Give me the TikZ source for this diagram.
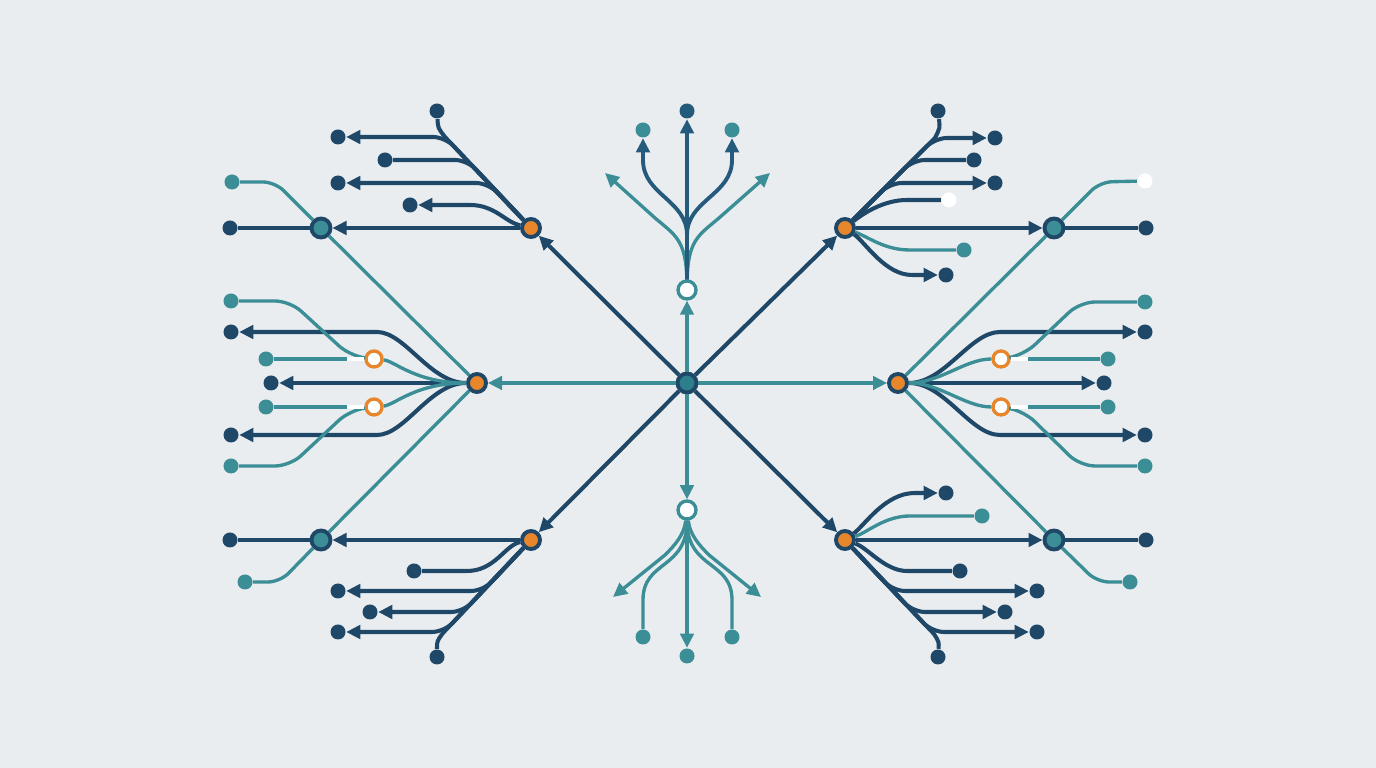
\documentclass[tikz,border=0pt]{standalone}
\usepackage{tikz}
\usetikzlibrary{arrows.meta}
\definecolor{bgcolor}{HTML}{E9EDF0}
\definecolor{navyline}{HTML}{1F4768}
\definecolor{midline}{HTML}{245B7C}
\definecolor{tealline}{HTML}{3B8D96}
\definecolor{hubfill}{HTML}{2E7F8C}
\definecolor{orangefill}{HTML}{E8862C}
\tikzset{
    %Define standard arrow tip
    >={Triangle[length=4pt,width=3.8pt]},
    %Define style for nodes
    hub/.style={
           circle,
           draw=navyline, line width=1.1pt,
           fill=hubfill,
           minimum size=0.19cm,
           inner sep=0pt},
    junction/.style={hub, fill=orangefill, minimum size=0.18cm},
    relay/.style={hub, fill=tealline, minimum size=0.19cm},
    openring/.style={
           circle,
           draw=tealline, line width=0.95pt,
           fill=white,
           minimum size=0.18cm,
           inner sep=0pt},
    orangering/.style={openring, draw=orangefill, minimum size=0.16cm},
    enddot/.style={
           circle,
           fill=navyline,
           minimum size=0.15cm,
           inner sep=0pt},
    tealdot/.style={enddot, fill=tealline},
    whitedot/.style={enddot, fill=white},
    % Define line styles
    nline/.style={draw=navyline, line width=1.15pt},
    mline/.style={draw=midline, line width=1.1pt},
    tline/.style={draw=tealline, line width=0.95pt},
    gapline/.style={draw=white, line width=1pt}
}
\begin{document}
\begin{tikzpicture}[x=0.01cm,y=-0.01cm]
\path[use as bounding box, fill=bgcolor] (0,0) rectangle (1376,768);

% hubs and junctions
\node[hub] (c) at (687,383) {};
\node[openring] (t) at (687,290) {};
\node[openring] (b) at (687,510) {};
\node[junction] (l) at (477,383) {};
\node[junction] (r) at (898,383) {};
\node[junction] (ul) at (531,228) {};
\node[junction] (ur) at (845,228) {};
\node[junction] (ll) at (531,540) {};
\node[junction] (lr) at (845,540) {};
\node[relay] (tl) at (321,228) {};
\node[relay] (tr) at (1054,228) {};
\node[relay] (bl) at (321,540) {};
\node[relay] (br) at (1054,540) {};
\node[orangering] (lo1) at (374,359) {};
\node[orangering] (lo2) at (374,407) {};
\node[orangering] (ro1) at (1001,359) {};
\node[orangering] (ro2) at (1001,407) {};

% end points
\node[enddot, fill=midline] (t0) at (687,111) {};
\node[tealdot] (t1) at (643,130) {};
\node[tealdot] (t2) at (732,130) {};
\coordinate (ta) at (605,173);
\coordinate (tb) at (770,173);
\node[tealdot] (b0) at (687,656) {};
\node[tealdot] (b1) at (643,637) {};
\node[tealdot] (b2) at (732,637) {};
\coordinate (ba) at (613,597);
\coordinate (bb) at (761,597);

\node[enddot] (ul0) at (437,111) {};
\node[enddot] (ul1) at (338,137) {};
\node[enddot] (ul2) at (385,160) {};
\node[enddot] (ul3) at (338,183) {};
\node[enddot] (ul4) at (410,205) {};
\node[enddot] (tl0) at (230,228) {};
\node[tealdot] (tl1) at (232,182) {};

\node[enddot] (ur0) at (938,111) {};
\node[enddot] (ur1) at (995,138) {};
\node[enddot] (ur2) at (974,160) {};
\node[enddot] (ur3) at (995,183) {};
\node[whitedot] (ur4) at (949,200) {};
\node[tealdot] (ur5) at (964,250) {};
\node[enddot] (ur6) at (946,275) {};
\node[enddot] (tr0) at (1146,228) {};
\node[whitedot] (tr1) at (1145,181) {};

\node[tealdot] (l1) at (231,301) {};
\node[enddot] (l2) at (231,332) {};
\node[tealdot] (l3) at (266,359) {};
\node[enddot] (l4) at (271,383) {};
\node[tealdot] (l5) at (266,407) {};
\node[enddot] (l6) at (231,435) {};
\node[tealdot] (l7) at (231,466) {};

\node[tealdot] (r1) at (1145,302) {};
\node[enddot] (r2) at (1145,332) {};
\node[tealdot] (r3) at (1108,359) {};
\node[enddot] (r4) at (1104,383) {};
\node[tealdot] (r5) at (1108,407) {};
\node[enddot] (r6) at (1145,435) {};
\node[tealdot] (r7) at (1145,466) {};

\node[enddot] (bl0) at (230,540) {};
\node[tealdot] (bl1) at (245,582) {};
\node[enddot] (ll1) at (414,571) {};
\node[enddot] (ll2) at (338,591) {};
\node[enddot] (ll3) at (370,612) {};
\node[enddot] (ll4) at (338,632) {};
\node[enddot] (ll0) at (437,657) {};

\node[enddot] (br0) at (1146,540) {};
\node[tealdot] (br1) at (1130,582) {};
\node[enddot] (lr1) at (946,493) {};
\node[tealdot] (lr2) at (982,516) {};
\node[enddot] (lr3) at (960,571) {};
\node[enddot] (lr4) at (1037,591) {};
\node[enddot] (lr5) at (1005,612) {};
\node[enddot] (lr6) at (1037,632) {};
\node[enddot] (lr0) at (938,657) {};

% spokes
\draw[nline,->] (c) -- (ul);
\draw[nline,->] (c) -- (ur);
\draw[nline,->] (c) -- (ll);
\draw[nline,->] (c) -- (lr);
\draw[tline,->] (c) -- (l);
\draw[tline,->] (c) -- (r);
\draw[tline,->] (c) -- (t);
\draw[tline,->] (c) -- (b);

% top fan
\draw[tline,->] (t) .. controls (686,240) and (675,235) .. (655,218) -- (ta);
\draw[tline,->] (t) .. controls (688,240) and (699,235) .. (719,218) -- (tb);
\draw[mline,->] (t) -- (t0);
\draw[mline,->] (t) -- (687,235) .. controls (687,200) and (643,195) .. (643,160) -- (t1);
\draw[mline,->] (t) -- (687,235) .. controls (687,200) and (732,195) .. (732,160) -- (t2);

% bottom fan
\draw[tline,->] (b) -- (b0);
\draw[tline] (b) .. controls (687,570) and (643,560) .. (643,600) -- (b1);
\draw[tline] (b) .. controls (687,570) and (732,560) .. (732,600) -- (b2);
\draw[tline,->] (b) .. controls (684,535) and (675,545) .. (665,555) -- (ba);
\draw[tline,->] (b) .. controls (690,535) and (699,545) .. (709,555) -- (bb);

% teal diagonals
\draw[tline] (l) -- (tl);
\draw[tline,rounded corners=0.12cm] (tl) -- (275,182) -- (tl1);
\draw[tline] (l) -- (bl);
\draw[tline,rounded corners=0.12cm] (bl) -- (280,582) -- (bl1);
\draw[tline] (r) -- (tr);
\draw[tline,rounded corners=0.12cm] (tr) -- (1100,182) -- (tr1);
\draw[tline] (r) -- (br);
\draw[tline,rounded corners=0.12cm] (br) -- (1097,582) -- (br1);

% upper left
\draw[nline,->] (ul) -- (tl);
\draw[nline] (tl) -- (tl0);
\draw[nline] (ul) -- (445,137) .. controls (438,128) .. (ul0);
\draw[nline,->,rounded corners=0.12cm] (ul) -- (445,137) -- (ul1);
\draw[nline,rounded corners=0.12cm] (ul) -- (467,160) -- (ul2);
\draw[nline,->,rounded corners=0.12cm] (ul) -- (488,183) -- (ul3);
\draw[nline,->] (ul) .. controls (505,222) and (495,205) .. (470,205) -- (ul4);

% upper right
\draw[nline,->] (ur) -- (tr);
\draw[nline] (tr) -- (tr0);
\draw[nline] (ur) -- (935,138) .. controls (940,128) .. (ur0);
\draw[nline,->,rounded corners=0.12cm] (ur) -- (935,138) -- (ur1);
\draw[nline,rounded corners=0.12cm] (ur) -- (913,160) -- (ur2);
\draw[nline,->,rounded corners=0.12cm] (ur) -- (890,183) -- (ur3);
\draw[nline] (ur) .. controls (865,212) and (885,200) .. (907,200) -- (ur4);
\draw[tline] (ur) .. controls (870,238) and (885,250) .. (910,250) -- (ur5);
\draw[nline,->] (ur) .. controls (865,242) and (885,275) .. (912,275) -- (ur6);

% left fan
\draw[nline,->] (l) -- (l4);
\draw[nline,->] (l) .. controls (430,383) and (405,332) .. (377,332) -- (l2);
\draw[nline,->] (l) .. controls (430,383) and (405,435) .. (377,435) -- (l6);
\draw[tline,rounded corners=0.15cm] (l1) -- (290,301) -- (350,356) -- (lo1);
\draw[tline] (lo1) .. controls (395,361) and (415,383) .. (l);
\draw[tline,rounded corners=0.15cm] (l7) -- (290,466) -- (350,410) -- (lo2);
\draw[tline] (lo2) .. controls (395,405) and (415,383) .. (l);
\draw[tline] (l3) -- (347,359);
\draw[gapline] (347,359) -- (lo1);
\draw[tline] (l5) -- (347,407);
\draw[gapline] (347,407) -- (lo2);

% right fan
\draw[nline,->] (r) -- (r4);
\draw[nline,->] (r) .. controls (945,383) and (970,332) .. (1000,332) -- (r2);
\draw[nline,->] (r) .. controls (945,383) and (970,435) .. (1000,435) -- (r6);
\draw[tline] (r) .. controls (940,383) and (965,359) .. (ro1);
\draw[tline,rounded corners=0.15cm] (ro1) -- (1024,355) -- (1080,302) -- (r1);
\draw[tline] (r) .. controls (940,383) and (965,407) .. (ro2);
\draw[tline,rounded corners=0.15cm] (ro2) -- (1024,411) -- (1080,466) -- (r7);
\draw[gapline] (ro1) -- (1028,359);
\draw[tline] (1028,359) -- (r3);
\draw[gapline] (ro2) -- (1028,407);
\draw[tline] (1028,407) -- (r5);

% lower left
\draw[nline,->] (ll) -- (bl);
\draw[nline] (bl) -- (bl0);
\draw[nline] (ll) .. controls (505,545) and (495,571) .. (467,571) -- (ll1);
\draw[nline] (ll) -- (443,633) .. controls (437,641) .. (ll0);
\draw[nline,->,rounded corners=0.12cm] (ll) -- (483,591) -- (ll2);
\draw[nline,->,rounded corners=0.12cm] (ll) -- (463,612) -- (ll3);
\draw[nline,->,rounded corners=0.12cm] (ll) -- (444,632) -- (ll4);

% lower right
\draw[nline,->] (lr) -- (br);
\draw[nline] (br) -- (br0);
\draw[nline,->] (lr) .. controls (865,525) and (885,493) .. (915,493) -- (lr1);
\draw[tline] (lr) .. controls (868,532) and (885,516) .. (910,516) -- (lr2);
\draw[nline] (lr) .. controls (868,548) and (885,571) .. (907,571) -- (lr3);
\draw[nline] (lr) -- (934,634) .. controls (939,642) .. (lr0);
\draw[nline,->,rounded corners=0.12cm] (lr) -- (893,591) -- (lr4);
\draw[nline,->,rounded corners=0.12cm] (lr) -- (913,612) -- (lr5);
\draw[nline,->,rounded corners=0.12cm] (lr) -- (932,632) -- (lr6);
\end{tikzpicture}
\end{document}
